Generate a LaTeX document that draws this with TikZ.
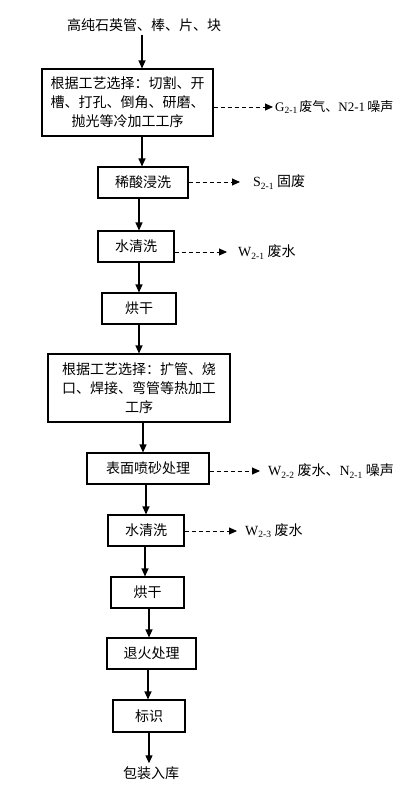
\documentclass[tikz,border=0pt]{standalone}
\usepackage{fontspec}
\setmainfont{Liberation Serif}
\newfontfamily\cjk{Noto Sans CJK SC}
\usetikzlibrary{arrows.meta}
\newcommand\zhs[1]{{\cjk #1}}
\newcommand\sbs[1]{\raisebox{-0.35ex}{\fontsize{9.5}{9.5}\selectfont #1}}
\begin{document}
\begin{tikzpicture}[x=1pt,y=-1pt,
  every node/.style={font=\fontsize{14}{19}\selectfont},
  proc/.style={draw,line width=1.1pt,inner sep=0pt,align=center},
  arr/.style={line width=1.1pt,-{Triangle[length=8pt,width=7pt]}},
  dsh/.style={line width=0.9pt,dash pattern=on 4pt off 3pt,-{Triangle[length=8pt,width=7pt]}},
  lab/.style={anchor=west,inner sep=0pt}]
\useasboundingbox (0,0) rectangle (402,785);
\clip (0,0) rectangle (402,785);
% nodes
\node[inner sep=3pt] (src) at (144,25) {\zhs{高纯石英管、棒、片、块}};
\node[proc,minimum width=171pt,minimum height=67pt] (b1) at (127.5,102.5)
  {\zhs{根据工艺选择：切割、开}\\\zhs{槽、打孔、倒角、研磨、}\\\zhs{抛光等冷加工工序}};
\node[proc,minimum width=90pt,minimum height=31pt] (b2) at (143,182.5) {\zhs{稀酸浸洗}};
\node[proc,minimum width=76pt,minimum height=31pt] (b3) at (136,246.5) {\zhs{水清洗}};
\node[proc,minimum width=74pt,minimum height=31pt] (b4) at (139,308.5) {\zhs{烘干}};
\node[proc,minimum width=182pt,minimum height=68pt] (b5) at (139,388)
  {\zhs{根据工艺选择：扩管、烧}\\\zhs{口、焊接、弯管等热加工}\\\zhs{工序}};
\node[proc,minimum width=122pt,minimum height=31pt] (b6) at (148,468.5) {\zhs{表面喷砂处理}};
\node[proc,minimum width=76pt,minimum height=31pt] (b7) at (146,530.5) {\zhs{水清洗}};
\node[proc,minimum width=73pt,minimum height=31pt] (b8) at (147.5,592.5) {\zhs{烘干}};
\node[proc,minimum width=89pt,minimum height=31pt] (b9) at (151.5,653.5) {\zhs{退火处理}};
\node[proc,minimum width=72pt,minimum height=32pt] (b10) at (149,716) {\zhs{标识}};
\node[inner sep=3pt] (end) at (151,773) {\zhs{包装入库}};
% side labels
\node[lab,font=\fontsize{13}{17}\selectfont] (g1) at (275,107) {G\sbs{2-1}\,\zhs{废气、}N2-1\,\zhs{噪声}};
\node[lab] (s1) at (253,182) {S\sbs{2-1} \zhs{固废}};
\node[lab] (w1) at (238,252) {W\sbs{2-1} \zhs{废水}};
\node[lab] (w2) at (268,471) {W\sbs{2-2} \zhs{废水、}N\sbs{2-1} \zhs{噪声}};
\node[lab] (w3) at (245,531) {W\sbs{2-3} \zhs{废水}};
% main flow
\draw[arr] (src.south -| 142,0) -- (b1.north -| 142,0);
\draw[arr] (b1.south -| 142,0) -- (b2.north -| 142,0);
\draw[arr] (b2.south -| 139,0) -- (b3.north -| 139,0);
\draw[arr] (b3.south -| 139,0) -- (b4.north -| 139,0);
\draw[arr] (b4.south -| 139,0) -- (b5.north -| 139,0);
\draw[arr] (b5.south -| 143,0) -- (b6.north -| 143,0);
\draw[arr] (b6.south -| 146,0) -- (b7.north -| 146,0);
\draw[arr] (b7.south -| 145,0) -- (b8.north -| 145,0);
\draw[arr] (b8.south -| 149,0) -- (b9.north -| 149,0);
\draw[arr] (b9.south -| 148,0) -- (b10.north -| 148,0);
\draw[arr] (b10.south -| 149,0) -- (end.north -| 149,0);
% side outputs
\draw[dsh,shorten >=2pt] (b1.east |- g1.west) -- (g1.west);
\draw[dsh,shorten >=13pt] (b2.east |- s1.west) -- (s1.west);
\draw[dsh,shorten >=11pt] (b3.east |- w1.west) -- (w1.west);
\draw[dsh,shorten >=8pt] (b6.east |- w2.west) -- (w2.west);
\draw[dsh,shorten >=8pt] (b7.east |- w3.west) -- (w3.west);
\end{tikzpicture}
\end{document}
